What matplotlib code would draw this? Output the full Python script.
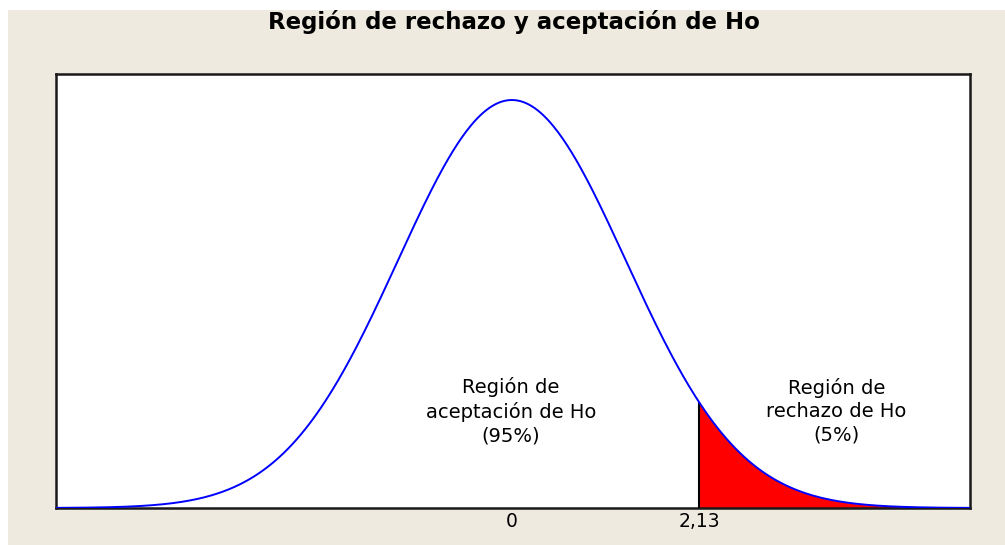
import numpy as np
import matplotlib
matplotlib.use("Agg")
import matplotlib.pyplot as plt
from matplotlib.patches import Rectangle

# Chart content
title = "Región de rechazo y aceptación de Ho"
mean = 0.0
sd = 1.0
critical_pos = 1.645          # where the rejection region starts on the curve
tick_positions = [0.0, 1.645]
tick_labels = ["0", "2,13"]
accept_label = "Región de\naceptación de Ho\n(95%)"
reject_label = "Región de\nrechazo de Ho\n(5%)"
x_min, x_max = -4.0, 4.02

W, H = 1005, 545
fig = plt.figure(figsize=(W / 100, H / 100), dpi=100)
fig.patch.set_facecolor("white")
bg = "#EEEAE0"
fig.add_artist(Rectangle((8 / W, 0), 1 - 8 / W, 1 - 10 / H, transform=fig.transFigure,
                         facecolor=bg, edgecolor="none", zorder=-10))

ax = fig.add_axes([56 / W, 1 - 508 / H, (970 - 56) / W, (508 - 74) / H])
ax.set_facecolor("white")

x = np.linspace(x_min, x_max, 600)
pdf = np.exp(-0.5 * ((x - mean) / sd) ** 2) / (sd * np.sqrt(2 * np.pi))
peak = 1 / (sd * np.sqrt(2 * np.pi))
y_top = peak * (508 - 74) / (508 - 100)

mask = x >= critical_pos
xr = np.concatenate([[critical_pos], x[mask]])
yr = np.exp(-0.5 * ((xr - mean) / sd) ** 2) / (sd * np.sqrt(2 * np.pi))
ax.fill_between(xr, 0, yr, color="#FF0000", linewidth=0, zorder=2)
ax.plot([critical_pos, critical_pos], [0, yr[0]], color="black", linewidth=1.5, zorder=3)
ax.plot(x, pdf, color="#0000FF", linewidth=1.4, zorder=4)

ax.set_xlim(x_min, x_max)
ax.set_ylim(0, y_top)
ax.set_yticks([])
ax.set_xticks(tick_positions)
ax.set_xticklabels(tick_labels, fontsize=13.5, family="DejaVu Sans")
ax.tick_params(axis="x", length=0, pad=3)
for s in ax.spines.values():
    s.set_color("#1a1a1a")
    s.set_linewidth(1.8)

y_lab = peak * (508 - 411) / (508 - 100)
ax.text(-0.01, y_lab, accept_label, ha="center", va="center",
        fontsize=14, linespacing=1.3, family="DejaVu Sans")
ax.text(2.85, y_lab, reject_label, ha="center", va="center",
        fontsize=14, linespacing=1.3, family="DejaVu Sans")

fig.text(514 / W, 1 - 22 / H, title, ha="center", va="center", fontsize=16.5,
         fontweight="bold", family="DejaVu Sans")

fig.savefig("out.png", dpi=100, facecolor=fig.get_facecolor())
